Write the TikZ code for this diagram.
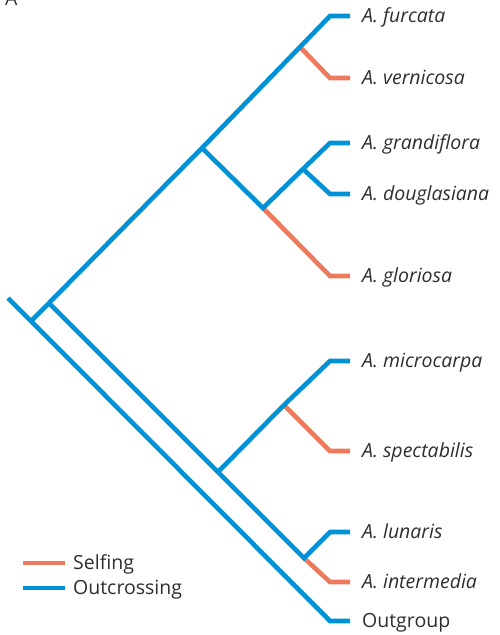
\documentclass[tikz,border=0pt]{standalone}
\usepackage{fontspec}
\setmainfont{Open Sans}
\definecolor{outc}{RGB}{0,146,214}
\definecolor{selfc}{RGB}{238,122,94}
\begin{document}
\begin{tikzpicture}[x=1pt,y=-1pt,
  branch/.style={line width=4.6pt, line join=miter},
  outbr/.style={branch, draw=outc},
  selfbr/.style={branch, draw=selfc},
  txt/.style={anchor=base west, inner sep=0pt, text=black!82, font=\fontsize{19.5}{23}\selectfont},
  taxon/.style={txt, font=\fontsize{19.5}{23}\selectfont\itshape},
  plainlab/.style={txt},
  keylab/.style={txt}]
\useasboundingbox (0,0) rectangle (500,635);

% panel letter
\node[txt] (panel) at (5,5) {A};

% internal nodes
\coordinate (stub) at (8,298);
\coordinate (root) at (31,321);
\coordinate (n1) at (49,303);
\coordinate (n2) at (202,148);
\coordinate (n3) at (300,47);
\coordinate (n4) at (263,208);
\coordinate (n8) at (303,169);
\coordinate (n5) at (218,472);
\coordinate (n7) at (284,405);
\coordinate (n6) at (304,558);

% branch bends and tips
\foreach \nm/\yy in {furc/16, vern/78, gran/143, doug/194, glor/276,
                     micr/361, spec/451, luna/532, inte/582, outg/621}{
  \coordinate (b\nm) at (330,\yy);
  \coordinate (t\nm) at (350,\yy);
}

% taxon labels (baselines)
\node[taxon] (lfurc) at (362,22.5) {A. furcata};
\node[taxon] (lvern) at (362,84.5) {A. vernicosa};
\node[taxon] (lgran) at (362,149.5) {A. grandiflora};
\node[taxon] (ldoug) at (362,200.5) {A. douglasiana};
\node[taxon] (lglor) at (362,282.5) {A. gloriosa};
\node[taxon] (lmicr) at (362,367.5) {A. microcarpa};
\node[taxon] (lspec) at (362,457.5) {A. spectabilis};
\node[taxon] (lluna) at (362,538.5) {A. lunaris};
\node[taxon] (linte) at (362,588.5) {A. intermedia};
\node[plainlab] (loutg) at (362,627.5) {Outgroup};

% selfing branches (drawn first so outcrossing lines sit on top)
\draw[selfbr] (n3) -- (bvern) -- (tvern);
\draw[selfbr] (n4) -- (bglor) -- (tglor);
\draw[selfbr] (n7) -- (bspec) -- (tspec);
\draw[selfbr] (n6) -- (binte) -- (tinte);

% outcrossing branches
\draw[outbr] (stub) -- (root) -- (boutg) -- (toutg);
\draw[outbr] (root) -- (n1);
\draw[outbr] (n1) -- (n2) -- (n3) -- (bfurc) -- (tfurc);
\draw[outbr] (n2) -- (n4) -- (n8) -- (bgran) -- (tgran);
\draw[outbr] (n8) -- (bdoug) -- (tdoug);
\draw[outbr] (n1) -- (n5) -- (n6) -- (bluna) -- (tluna);
\draw[outbr] (n5) -- (n7) -- (bmicr) -- (tmicr);

% key
\coordinate (ks0) at (23,563);
\coordinate (ks1) at (65,563);
\coordinate (ko0) at (23,588);
\coordinate (ko1) at (65,588);
\draw[selfbr] (ks0) -- (ks1);
\draw[outbr] (ko0) -- (ko1);
\node[keylab] (kself) at (73,569.5) {Selfing};
\node[keylab] (kout) at (73,594.5) {Outcrossing};
\end{tikzpicture}
\end{document}
